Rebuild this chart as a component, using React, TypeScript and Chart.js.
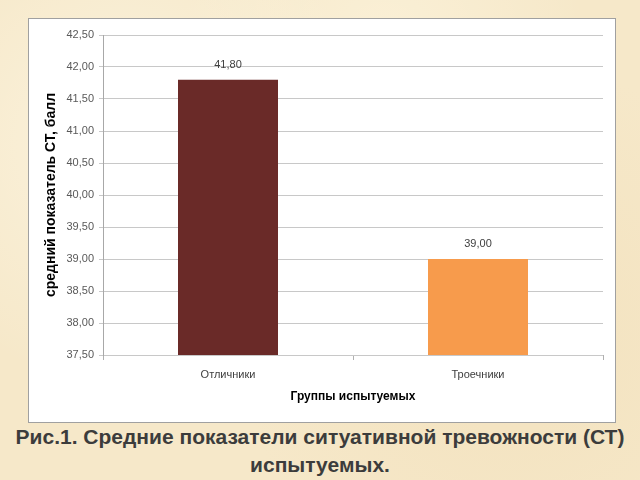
import React, { useEffect, useRef } from 'react';
import Chart from 'chart.js/auto';

const categories = ['Отличники', 'Троечники'];
const scores = [41.8, 39.0];
const barColors = ['#6a2a28', '#f79b4c'];
const yMin = 37.5;
const yMax = 42.5;
const yStep = 0.5;

const fmt = (v: number) => v.toFixed(2).replace('.', ',');

const valueLabels = {
  id: 'valueLabels',
  afterDatasetsDraw(chart: any) {
    const ctx = chart.ctx;
    const meta = chart.getDatasetMeta(0);
    ctx.save();
    ctx.font = '11px "Liberation Sans", Arial, sans-serif';
    ctx.fillStyle = '#404040';
    ctx.textAlign = 'center';
    ctx.textBaseline = 'middle';
    meta.data.forEach((bar: any, i: number) => {
      ctx.fillText(fmt(scores[i]), bar.x, bar.y - 15);
    });
    ctx.restore();
  },
};

const BarChart = () => {
  const chartRef = useRef<HTMLCanvasElement | null>(null);
  const chartInstance = useRef<Chart | null>(null);

  useEffect(() => {
    if (!chartRef.current) return;
    const ctx = chartRef.current.getContext('2d');
    if (!ctx) return;
    if (chartInstance.current) chartInstance.current.destroy();

    chartInstance.current = new Chart(ctx, {
      type: 'bar',
      data: {
        labels: categories,
        datasets: [{
          data: scores,
          backgroundColor: barColors,
          borderWidth: 0,
          barPercentage: 0.4,
          categoryPercentage: 1,
        }],
      },
      options: {
        responsive: false,
        animation: false,
        devicePixelRatio: 1,
        layout: { padding: { left: 0, right: 12, top: 16, bottom: 0 } },
        plugins: {
          legend: { display: false },
          tooltip: { enabled: false },
        },
        scales: {
          x: {
            grid: {
              drawOnChartArea: false,
              drawTicks: true,
              tickLength: 5,
              color: '#b0b0b0',
            },
            border: { display: false },
            ticks: {
              color: '#404040',
              padding: 8,
              font: { family: '"Liberation Sans", Arial, sans-serif', size: 11 },
            },
            title: {
              display: true,
              text: 'Группы испытуемых',
              color: '#000000',
              padding: { top: 18, bottom: 18 },
              font: { family: '"Liberation Sans", Arial, sans-serif', size: 12, weight: 'bold' },
            },
            afterFit: (scale: any) => { scale.height = 67; },
          },
          y: {
            min: yMin,
            max: yMax,
            grid: {
              color: '#c8c8c8',
              tickLength: 4,
            },
            border: { display: true, color: '#a8a8a8' },
            ticks: {
              stepSize: yStep,
              color: '#595959',
              padding: 5,
              font: { family: '"Liberation Sans", Arial, sans-serif', size: 11 },
              callback: (v: any) => fmt(Number(v)),
            },
            title: {
              display: true,
              text: 'средний показатель СТ, балл',
              color: '#000000',
              padding: { top: 14, bottom: 14 },
              font: { family: '"Liberation Sans", Arial, sans-serif', size: 14, weight: 'bold' },
            },
            afterFit: (scale: any) => { scale.width = 74; },
          },
        },
      },
      plugins: [valueLabels],
    });

    return () => {
      if (chartInstance.current) {
        chartInstance.current.destroy();
        chartInstance.current = null;
      }
    };
  }, []);

  return <canvas ref={chartRef} width={586} height={403} style={{ display: 'block', width: 586, height: 403 }} />;
};

export default function App() {
  return (
    <div
      style={{
        position: 'fixed',
        left: 0,
        top: 0,
        width: 640,
        height: 480,
        overflow: 'hidden',
        backgroundColor: '#f6e8c9',
        backgroundImage:
          'radial-gradient(circle at 20% 30%, rgba(255,250,235,0.6) 0, rgba(255,250,235,0) 40%),' +
          'radial-gradient(circle at 80% 70%, rgba(240,220,180,0.5) 0, rgba(240,220,180,0) 45%),' +
          'radial-gradient(circle at 60% 10%, rgba(255,248,228,0.5) 0, rgba(255,248,228,0) 35%)',
        fontFamily: '"Liberation Sans", Arial, sans-serif',
      }}
    >
      <div
        style={{
          position: 'absolute',
          left: 28,
          top: 18,
          width: 586,
          height: 403,
          border: '1px solid #a0a0a0',
          background: '#ffffff',
        }}
      >
        <BarChart />
      </div>
      <div
        style={{
          position: 'absolute',
          left: 0,
          top: 423,
          width: 640,
          textAlign: 'center',
          fontWeight: 'bold',
          fontSize: 21,
          lineHeight: '28px',
          color: '#3c3c3c',
          whiteSpace: 'nowrap',
        }}
      >
        Рис.1. Средние показатели ситуативной тревожности (СТ)
        <br />
        испытуемых.
      </div>
    </div>
  );
}
